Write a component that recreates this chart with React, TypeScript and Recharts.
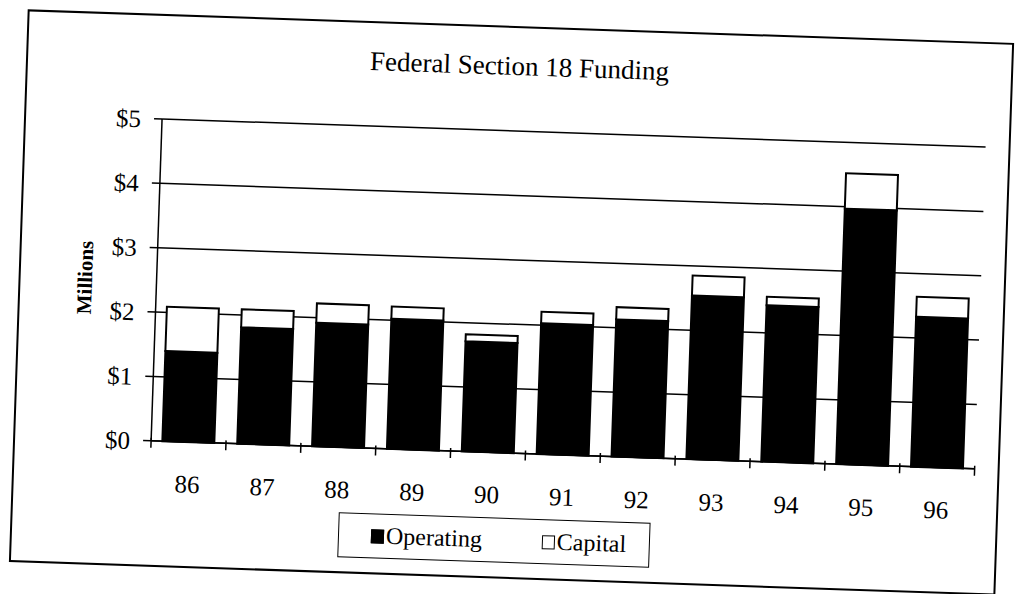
import React from 'react';
import { BarChart, Bar, XAxis, YAxis, CartesianGrid, Legend, Label } from 'recharts';

const YEARS = ['86', '87', '88', '89', '90', '91', '92', '93', '94', '95', '96'];
const OPERATING = [1.4, 1.81, 1.92, 2.02, 1.71, 2.03, 2.13, 2.54, 2.43, 3.97, 2.33];
const CAPITAL = [0.69, 0.28, 0.3, 0.19, 0.11, 0.18, 0.19, 0.31, 0.13, 0.55, 0.31];
const SERIES_ORDER = ['Operating', 'Capital'];
const Y_TICKS = [0, 1, 2, 3, 4, 5];

const data = YEARS.map((year, i) => ({
  year,
  operating: OPERATING[i],
  capital: CAPITAL[i],
}));

const FONT = '"Liberation Serif", "Times New Roman", serif';

// chart geometry
const W = 1018;
const H = 594;
const MARGIN = { top: 131, right: 38, bottom: 81, left: 12 };
const Y_AXIS_W = 144;
const PLOT_W = W - MARGIN.left - MARGIN.right - Y_AXIS_W;
const BAND = PLOT_W / YEARS.length;
const TICK_SIZE = 7;
const TICK_MARGIN = 26;

// category label + Excel-style tick marks on the category boundaries
const YearTick = (props: any) => {
  const { x, y, payload, index } = props;
  const axisY = y - TICK_SIZE - TICK_MARGIN;
  const left = x - BAND / 2;
  const right = x + BAND / 2;
  return (
    <g>
      <line x1={left} x2={left} y1={axisY - 3} y2={axisY + 7} stroke="#000" strokeWidth={1.5} />
      {index === YEARS.length - 1 && (
        <line x1={right} x2={right} y1={axisY - 3} y2={axisY + 7} stroke="#000" strokeWidth={1.5} />
      )}
      <text x={x} y={y} dy="0.71em" textAnchor="middle" fill="#000" fontFamily={FONT} fontSize={25}>
        {payload.value}
      </text>
    </g>
  );
};

const LegendBox = ({ payload }: any) => {
  const items = [...(payload || [])].sort(
    (a: any, b: any) => SERIES_ORDER.indexOf(a.value) - SERIES_ORDER.indexOf(b.value)
  );
  return (
    <div
      style={{
        border: '1.5px solid #000',
        boxSizing: 'border-box',
        width: 312,
        height: 45,
        display: 'flex',
        alignItems: 'center',
        paddingLeft: 32,
        fontFamily: FONT,
        fontSize: 24,
        color: '#000',
        background: '#fff',
      }}
    >
      {items.map((entry: any, i: number) => (
        <span key={`lg-${i}`} style={{ display: 'flex', alignItems: 'center', marginRight: i === 0 ? 60 : 0 }}>
          <span
            style={{
              display: 'inline-block',
              width: 13,
              height: 14,
              background: entry.color,
              border: '1.5px solid #000',
              boxSizing: 'border-box',
              marginRight: 2,
            }}
          />
          <span>{entry.value}</span>
        </span>
      ))}
    </div>
  );
};

export default function App() {
  return (
    <div
      style={{
        position: 'absolute',
        left: 0,
        top: 0,
        width: W,
        height: H,
        background: '#fff',
        transform: 'rotate(1.95deg)',
        transformOrigin: '512px 303px',
      }}
    >
      <div
        style={{
          position: 'absolute',
          left: 18,
          top: 26,
          width: 987,
          height: 553,
          border: '2px solid #000',
          boxSizing: 'border-box',
        }}
      />
      <div
        style={{
          position: 'absolute',
          left: 18,
          top: 51,
          width: 987,
          textAlign: 'center',
          fontFamily: FONT,
          fontSize: 27,
          lineHeight: '30px',
          color: '#000',
        }}
      >
        Federal Section 18 Funding
      </div>
      <div style={{ position: 'absolute', left: 0, top: 0 }}>
        <BarChart width={W} height={H} data={data} margin={MARGIN} barCategoryGap="15%">
          <CartesianGrid horizontal vertical={false} stroke="#000" strokeWidth={1.5} yAxisId="left" xAxisId="cat" />
          <XAxis
            xAxisId="cat"
            dataKey="year"
            height={60}
            tickLine={false}
            tickSize={TICK_SIZE}
            tickMargin={TICK_MARGIN}
            axisLine={{ stroke: '#000', strokeWidth: 1.5 }}
            tick={<YearTick />}
            interval={0}
          />
          <YAxis
            yAxisId="left"
            domain={[0, 5]}
            ticks={Y_TICKS}
            width={Y_AXIS_W}
            tickSize={8}
            tickMargin={13}
            tickFormatter={(v) => `$${v}`}
            axisLine={{ stroke: '#000', strokeWidth: 1.5 }}
            tickLine={{ stroke: '#000', strokeWidth: 1.5 }}
            tick={{ fill: '#000', fontFamily: FONT, fontSize: 25 }}
          >
            <Label
              value="Millions"
              angle={-90}
              position="center"
              style={{ fill: '#000', fontFamily: FONT, fontSize: 21, fontWeight: 'bold' }}
            />
          </YAxis>
          <YAxis
            yAxisId="right"
            orientation="right"
            domain={[0, 5]}
            width={0}
            tick={false}
            tickLine={false}
            axisLine={{ stroke: '#000', strokeWidth: 1.5 }}
          />
          <Legend
            layout="horizontal"
            verticalAlign="middle"
            align="center"
            content={<LegendBox />}
            wrapperStyle={{ left: 346, top: 518, width: 312, height: 45 }}
          />
          <Bar
            dataKey="operating"
            name="Operating"
            stackId="a"
            xAxisId="cat"
            yAxisId="left"
            fill="#000"
            stroke="#000"
            strokeWidth={2}
            isAnimationActive={false}
          />
          <Bar
            dataKey="capital"
            name="Capital"
            stackId="a"
            xAxisId="cat"
            yAxisId="left"
            fill="#fff"
            stroke="#000"
            strokeWidth={2}
            isAnimationActive={false}
          />
        </BarChart>
      </div>
    </div>
  );
}
